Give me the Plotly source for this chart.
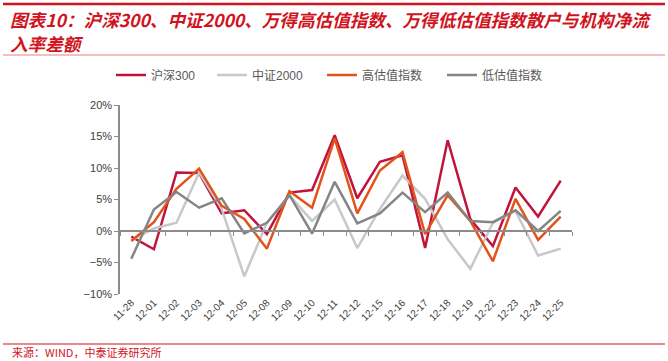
import plotly.graph_objects as go

dates = ["11-28", "12-01", "12-02", "12-03", "12-04", "12-05", "12-08", "12-09", "12-10", "12-11",
         "12-12", "12-15", "12-16", "12-17", "12-18", "12-19", "12-22", "12-23", "12-24", "12-25"]

hs300 = [-0.9, -2.9, 9.3, 9.2, 2.8, 3.3, -0.5, 6.1, 6.5, 15.2,
         5.2, 11.0, 12.0, -2.7, 14.4, 1.9, -2.4, 6.9, 2.3, 8.0]
zz2000 = [-1.5, 0.4, 1.3, 9.3, 3.5, -7.2, 1.3, 5.6, 1.6, 5.0,
          -2.7, 3.5, 8.8, 5.1, -1.3, -6.0, 1.3, 3.2, -3.9, -2.8]
high_val = [-1.6, 1.4, 6.7, 9.9, 4.0, 1.9, -2.8, 6.3, 3.7, 14.7,
            2.8, 9.6, 12.5, -0.5, 5.7, 1.6, -4.8, 5.1, -1.4, 2.3]
low_val = [-4.4, 3.4, 6.2, 3.7, 5.2, -0.4, 1.3, 5.7, -0.4, 7.8,
           1.2, 2.8, 6.1, 3.0, 6.1, 1.6, 1.4, 3.3, 0.0, 3.2]

series = [
    ("沪深300", hs300, "#C0143C"),
    ("中证2000", zz2000, "#C8C8C8"),
    ("高估值指数", high_val, "#E2531B"),
    ("低估值指数", low_val, "#858585"),
]

y_ticks = [-10, -5, 0, 5, 10, 15, 20]
y_labels = ["−10%", "−5%", "0%", "5%", "10%", "15%", "20%"]

title_lines = ["图表10：沪深300、中证2000、万得高估值指数、万得低估值指数散户与机构净流", "入率差额"]
source_text = "来源：WIND，中泰证券研究所"

W, H = 668, 361
L, R, T, B = 120, 96, 105, 67
PW, PH = W - L - R, H - T - B


def px_x(x):
    return (x - L) / PW


def px_y(y):
    return (H - B - y) / PH


legend_left = [111, 212, 322, 442]
legend_ids = ["legend", "legend2", "legend3", "legend4"]

fig = go.Figure()
for (name, vals, color), lid in zip(series, legend_ids):
    fig.add_trace(go.Scatter(x=dates, y=vals, name=name, mode="lines", legend=lid,
                             line=dict(color=color, width=2.5)))

legend_style = dict(orientation="h", xanchor="left", y=px_y(75), yanchor="middle",
                    font=dict(size=12, color="#595959", family="Liberation Sans, Noto Sans CJK SC"),
                    itemwidth=30, bgcolor="rgba(0,0,0,0)")

fig.update_layout(
    width=W, height=H,
    margin=dict(l=L, r=R, t=T, b=B, autoexpand=False),
    paper_bgcolor="white", plot_bgcolor="white",
    font=dict(family="Liberation Sans, Noto Sans CJK SC, sans-serif", size=11, color="#595959"),
    showlegend=True,
    xaxis=dict(type="category", showline=False, ticks="", showgrid=False,
               tickangle=-45, tickfont=dict(size=10, color="#404040"),
               range=[-0.5, len(dates) - 0.5], zeroline=False),
    xaxis2=dict(type="category", matches="x", overlaying="x", anchor="free",
                position=1 / 3, showline=True, linecolor="#8C8C8C", linewidth=1.5,
                ticks="outside", ticklen=4, tickcolor="#8C8C8C", tickwidth=1,
                tickson="boundaries", showticklabels=False, showgrid=False),
    yaxis=dict(range=[-10, 20], tickvals=y_ticks, ticktext=y_labels,
               showline=True, linecolor="#8C8C8C", linewidth=1.5,
               ticks="outside", ticklen=4, tickcolor="#8C8C8C",
               showgrid=False, zeroline=False, tickfont=dict(size=11, color="#404040")),
)
for lid, lx in zip(legend_ids, legend_left):
    fig.update_layout({lid: dict(legend_style, x=px_x(lx))})

# invisible trace to activate xaxis2 (zero-line axis with boundary ticks)
fig.add_trace(go.Scatter(x=dates, y=[None] * len(dates), xaxis="x2", showlegend=False,
                         hoverinfo="skip", mode="lines"))

red = "#D0141E"
x_left, x_right = px_x(3), px_x(W - 3)
fig.add_shape(type="line", xref="paper", yref="paper", x0=x_left, x1=x_right,
              y0=px_y(4), y1=px_y(4), line=dict(color=red, width=2.5))
fig.add_shape(type="line", xref="paper", yref="paper", x0=x_left, x1=x_right,
              y0=px_y(55), y1=px_y(55), line=dict(color="#E58080", width=1))
fig.add_shape(type="line", xref="paper", yref="paper", x0=x_left, x1=x_right,
              y0=px_y(344), y1=px_y(344), line=dict(color=red, width=1.2))

title_font = dict(family="Noto Sans CJK SC", size=17.6, color=red)
for line_text, cy in zip(title_lines, [19.5, 44]):
    fig.add_annotation(xref="paper", yref="paper", x=px_x(8), xanchor="left", align="left",
                       y=px_y(cy), yanchor="middle", showarrow=False,
                       text=f"<b><i>{line_text}</i></b>", font=title_font)
fig.add_annotation(xref="paper", yref="paper", x=px_x(10), xanchor="left",
                   y=px_y(352), yanchor="middle", showarrow=False,
                   text=source_text,
                   font=dict(family="Noto Sans CJK SC", size=11, color=red))

fig.write_html("out.html", config={"displayModeBar": False},
               post_script="document.body.style.margin='0';")
